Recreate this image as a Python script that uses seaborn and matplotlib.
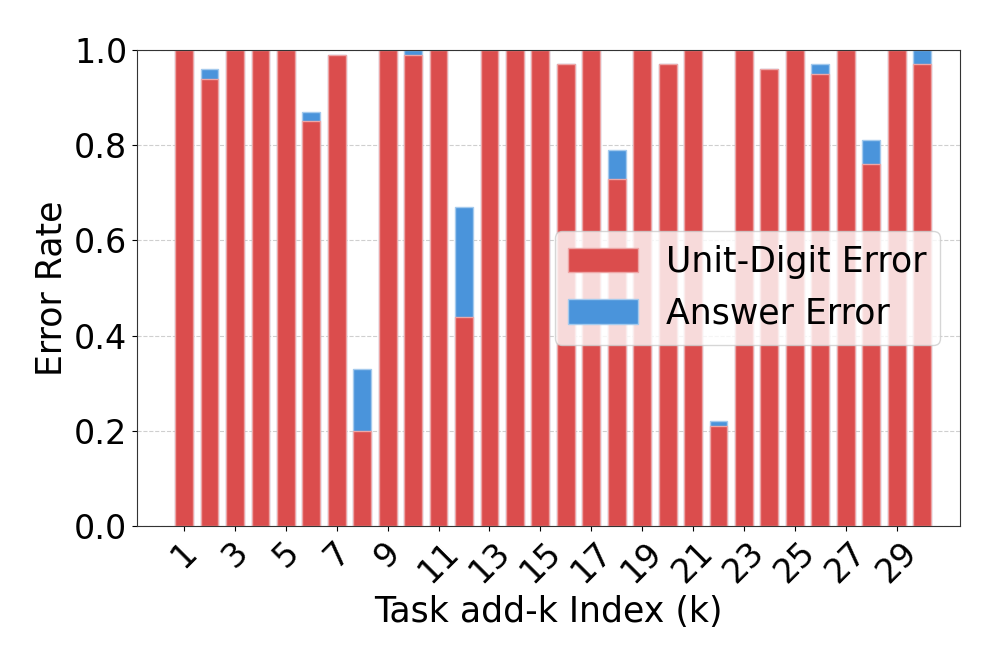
import numpy as np
import pandas as pd
import matplotlib
matplotlib.use("Agg")
import matplotlib.pyplot as plt
import seaborn as sns
from matplotlib.patches import Patch

# Task index k
k_values = list(range(1, 31))

# Unit-digit error rate per task (red)
unit_digit_error = [1.00, 0.94, 1.00, 1.00, 1.00, 0.85, 0.99, 0.20, 1.00, 0.99,
                    1.00, 0.44, 1.00, 1.00, 1.00, 0.97, 1.00, 0.73, 1.00, 0.97,
                    1.00, 0.21, 1.00, 0.96, 1.00, 0.95, 1.00, 0.76, 1.00, 0.97]

# Overall answer error rate per task (blue)
answer_error = [1.00, 0.96, 1.00, 1.00, 1.00, 0.87, 0.99, 0.33, 1.00, 1.00,
                1.00, 0.67, 1.00, 1.00, 1.00, 0.97, 1.00, 0.79, 1.00, 0.97,
                1.00, 0.22, 1.00, 0.96, 1.00, 0.97, 1.00, 0.81, 1.00, 1.00]

xtick_labels = [str(k) for k in range(1, 30, 2)]

df = pd.DataFrame({'k': k_values,
                   'unit': unit_digit_error,
                   'answer': answer_error})

red = '#DB4D4D'
blue = '#4A94DB'
red_edge = '#EDA6A6'
blue_edge = '#A4CAED'

fig = plt.figure(figsize=(9.97, 6.64), dpi=100)
ax = fig.add_axes([0.1374, 0.2078, 0.8255, 0.7169])

# answer error drawn first, unit-digit error drawn over it
sns.barplot(data=df, x='k', y='answer', native_scale=True, width=0.7,
            color=blue, edgecolor=blue_edge, linewidth=1,
            saturation=1, ax=ax)
sns.barplot(data=df, x='k', y='unit', native_scale=True, width=0.7,
            color=red, edgecolor=red_edge, linewidth=1,
            saturation=1, ax=ax)

ax.set_xlim(-0.85, 31.49)
ax.set_ylim(0, 1.0)
ax.set_xticks(range(1, 30, 2))
ax.set_xticklabels(xtick_labels, rotation=45, fontsize=24)
ax.set_yticks([0.0, 0.2, 0.4, 0.6, 0.8, 1.0])
ax.set_yticklabels(['0.0', '0.2', '0.4', '0.6', '0.8', '1.0'], fontsize=24)
ax.set_xlabel('Task add-k Index (k)', fontsize=25)
ax.set_ylabel('Error Rate', fontsize=25)

ax.set_axisbelow(True)
ax.yaxis.grid(True, linestyle='--', color='#bbbbbb', alpha=0.7, linewidth=0.8)

for s in ax.spines.values():
    s.set_color('#333333')

handles = [Patch(facecolor=red, edgecolor=red_edge, label='Unit-Digit Error'),
           Patch(facecolor=blue, edgecolor=blue_edge, label='Answer Error')]
ax.legend(handles=handles, loc='center right', bbox_to_anchor=(0.997, 0.5),
          fontsize=25, framealpha=0.8, handlelength=2.0)

fig.savefig('out.png', dpi=100)
